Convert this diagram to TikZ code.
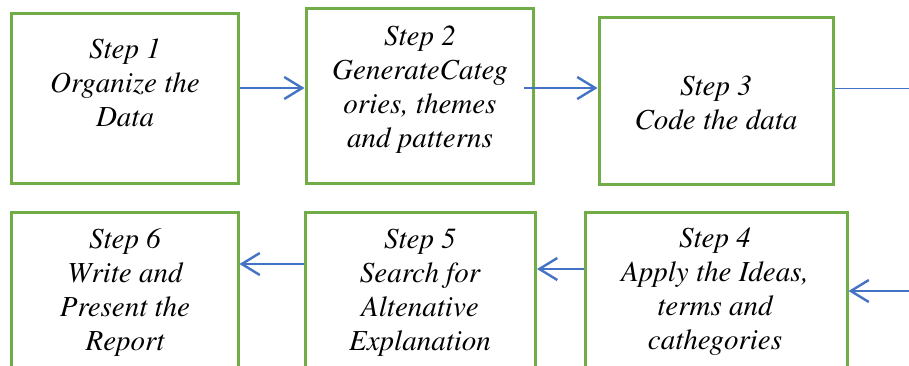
\documentclass[tikz,border=0pt]{standalone}
\usepackage[T1]{fontenc}
\usetikzlibrary{arrows.meta}
\definecolor{boxgreen}{HTML}{70AD47}
\definecolor{arrowblue}{HTML}{4472C4}
\newcommand{\stepfont}{\fontencoding{T1}\fontfamily{ptm}\fontshape{it}\fontsize{29}{34}\selectfont}
\begin{document}
\begin{tikzpicture}[x=1pt,y=-1pt,
  stepbox/.style={draw=boxgreen,line width=3pt,inner sep=0pt,minimum width=#1,rectangle},
  steptext/.style={align=center,inner sep=0pt,font=\stepfont},
  flow/.style={draw=arrowblue,line width=2.4pt,-{Straight Barb[length=18pt,width=22pt,line width=2.4pt]}}]
\useasboundingbox (0,0) rectangle (909,365);
% boxes
\node[stepbox=227pt,minimum height=170pt] (b1) at (124.5,98) {};
\node[stepbox=227pt,minimum height=175pt] (b2) at (419.5,95.5) {};
\node[stepbox=234pt,minimum height=167pt] (b3) at (716,100.5) {};
\node[stepbox=227pt,minimum height=160pt] (b6) at (124.5,292) {};
\node[stepbox=230pt,minimum height=160pt] (b5) at (420.5,292) {};
\node[stepbox=262pt,minimum height=160pt] (b4) at (716,292) {};
% texts
\node[steptext] (t1) at (125,83) {Step 1\\Organize the\\Data};
\node[steptext] (t2) at (420,90) {Step 2\\GenerateCateg\\ories, themes\\and patterns};
\node[steptext] (t3) at (716,103) {Step 3\\Code the data};
\node[steptext] (t4) at (715,292) {Step 4\\Apply the Ideas,\\terms and\\cathegories};
\node[steptext] (t5) at (420,293) {Step 5\\Search for\\Altenative\\Explanation};
\node[steptext] (t6) at (125,293) {Step 6\\Write and\\Present the\\Report};
% connectors
\coordinate (c3) at (909,88);
\coordinate (c4) at (909,291);
\draw[flow] (b1.east |- 0,88) -- (b2.west |- 0,88);
\draw[flow] (524,88) -- (b3.west |- 0,88);
\draw[draw=arrowblue,line width=1pt] (b3.east |- c3) -- (c3);
\draw[flow] (c4) -- (b4.east |- c4);
\draw[flow] (b4.west |- 0,269) -- (b5.east |- 0,269);
\draw[flow] (b5.west |- 0,264) -- (b6.east |- 0,264);
\end{tikzpicture}
\end{document}
